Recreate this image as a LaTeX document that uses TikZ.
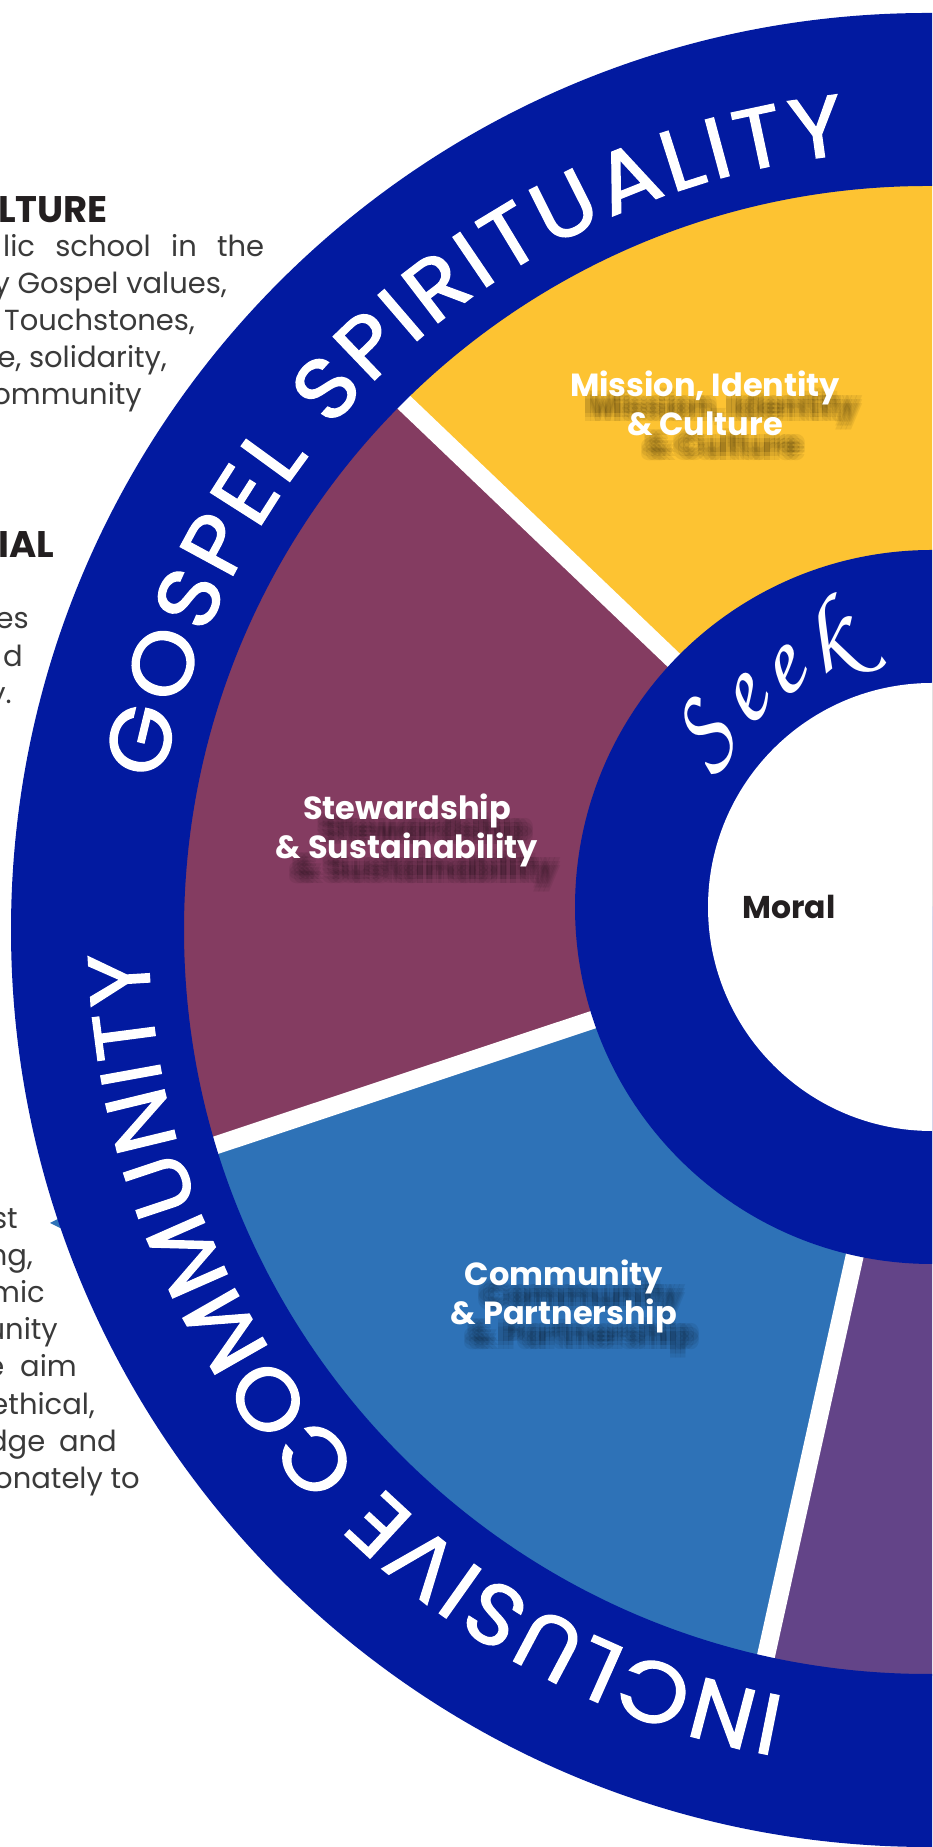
\documentclass[tikz,border=0pt]{standalone}
\usepackage{fontspec}
\setmainfont{Poppins}
\newfontfamily\ringff{Poppins}[FakeBold=1.6, FakeStretch=1.06]
\usetikzlibrary{decorations.text,calc}
\definecolor{ringblue}{HTML}{021AA0}
\definecolor{segyellow}{HTML}{FDC332}
\definecolor{segmaroon}{HTML}{843C61}
\definecolor{segblue}{HTML}{2E72B7}
\definecolor{segpurple}{HTML}{634488}
\definecolor{bodytext}{HTML}{3A3A3A}
\definecolor{headtext}{HTML}{231F20}
\newcommand\ringfont{\ringff\fontsize{86}{86}\selectfont}
\newcommand\seekfont{\fontsize{106}{106}\usefont{OT1}{pzc}{m}{it}}
\newcommand\seglabel[4]{%
  \foreach \i in {-5,0,5}{\foreach \j in {-4,0,4}{%
    \node[shadetxt] (#1sh) at (#2+18+\i, #3-21+\j) {#4};}}%
  \node[lbl] (#1) at (#2,#3) {#4};}
\begin{document}
\begin{tikzpicture}[x=1pt,y=1pt,
  body/.style={font=\fontsize{29}{37}\selectfont, text=bodytext, inner sep=0pt},
  head/.style={font=\bfseries\fontsize{37}{37}\selectfont, text=headtext, inner sep=0pt},
  lbl/.style={font=\bfseries\fontsize{32}{39}\selectfont, text=white, align=center, inner sep=0pt},
  shadetxt/.style={lbl, text=black, text opacity=0.065},
  gapline/.style={draw=white, line width=18pt},
]
\useasboundingbox (0,0) rectangle (932,1847);
\clip (0,0) rectangle (932,1847);
\coordinate (Co) at (928,917);
\coordinate (Ci) at (932,940);

% left side texts
\node[head, anchor=base west] (h1) at (-2,1624) {LTURE};
\node[body, anchor=base west] (t1) at (3,1590) {\makebox[261pt]{lic\hfill school\hfill in\hfill the}};
\node[body, anchor=base east] (t2) at (227,1553) {y Gospel values,};
\node[body, anchor=base east] (t3) at (195,1516) {Touchstones,};
\node[body, anchor=base east] (t4) at (167,1479) {e, solidarity,};
\node[body, anchor=base east] (t5) at (142,1442) {ommunity};
\node[head, anchor=base west] (h2) at (-2,1289) {IAL};
\node[body, anchor=base east] (t6) at (29,1218) {es};
\node[body, anchor=base east] (t7) at (23,1180) {d};
\node[body, anchor=base east] (t8) at (12,1143) {y.};
\node[body, anchor=base east] (u1) at (18,618) {st};
\node[body, anchor=base east] (u2) at (33,581) {ng,};
\node[body, anchor=base east] (u3) at (45,544) {mic};
\node[body, anchor=base east] (u4) at (58,507) {unity};
\node[body, anchor=base east] (u5) at (77,470) {e\hspace{8pt} aim};
\node[body, anchor=base east] (u6) at (95,432) {ethical,};
\node[body, anchor=base east] (u7) at (117,395) {dge\hspace{6pt} and};
\node[body, anchor=base east] (u8) at (140,358) {onately to};
\fill[segblue] (50,624) -- (66,632) -- (66,616) -- cycle;

% segments
\begin{scope}
\clip (Co) circle[radius=746];
\fill[segyellow] (Ci) -- ++(136.3:1100) arc[start angle=136.3,end angle=30,radius=1100] -- cycle;
\fill[segmaroon] (Ci) -- ++(136.3:1100) arc[start angle=136.3,end angle=198.4,radius=1100] -- cycle;
\fill[segblue] (Ci) -- ++(198.4:1100) arc[start angle=198.4,end angle=257.5,radius=1100] -- cycle;
\fill[segpurple] (Ci) -- ++(257.5:1100) arc[start angle=257.5,end angle=340,radius=1100] -- cycle;
\foreach \a in {136.3,198.4,257.5} \draw[gapline] (Ci) -- ++(\a:1100);
\end{scope}

% outer band
\fill[ringblue, even odd rule] (Co) circle[radius=917] (Co) circle[radius=744];
% inner ring and centre
\fill[ringblue] (Ci) circle[radius=357];
\fill[white] (Ci) circle[radius=224];

% ring texts
\path[decorate, decoration={text along path, text={|\ringfont|GOSPEL SPIRITUALITY}, text align={fit to path}, text color=white}]
  ($(Co)+(169:780)$) arc[start angle=169,end angle=96,radius=780];
\path[decorate, decoration={text along path, text={|\ringfont|INCLUSIVE COMMUNITY}, text align={fit to path}, text color=white}]
  ($(Co)+(259.5:780)$) arc[start angle=259.5,end angle=181.6,radius=780];
\path[decorate, decoration={text along path, text={|\seekfont|Seek}, text align={fit to path}, text color=white}]
  ($(Ci)+(149:256)$) arc[start angle=149,end angle=106,radius=256];

% segment labels
\seglabel{mission}{705}{1444}{Mission, Identity\\\& Culture}
\seglabel{steward}{407}{1017}{Stewardship\\\& Sustainability}
\seglabel{community}{564}{551}{Community\\\& Partnership}

\node[font=\bfseries\fontsize{31.5}{31.5}\selectfont, text=headtext, inner sep=0pt] (moral) at (789,940) {Moral};
\end{tikzpicture}
\end{document}
